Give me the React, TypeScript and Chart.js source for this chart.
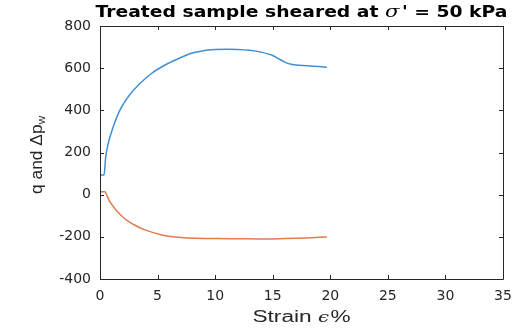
import React, { useEffect, useRef } from "react";
import { Chart, registerables } from "chart.js";

Chart.register(...registerables);

const qStrain = [0, 0.03, 0.35, 0.5, 0.72, 1.16, 1.74, 2.46, 3.33, 4.5, 5.65, 6.8, 8, 9, 10, 11, 12, 13, 14, 15, 15.5, 16, 16.5, 17, 18, 19, 19.7];
const qValues = [10, 93, 93, 180, 244, 323, 402, 465, 520, 576, 615, 645, 672, 683, 688, 690, 689, 685, 676, 660, 645, 630, 620, 615, 612, 608, 604];

const pwStrain = [0, 0.1, 0.43, 0.55, 0.75, 1.0, 1.5, 2.0, 2.5, 3.2, 3.91, 5.36, 6.81, 8.26, 10, 12, 14, 16, 18, 19.7];
const pwValues = [5, 14, 14, 2, -22, -45, -80, -107, -128, -150, -167, -191, -202, -207, -208, -209, -210, -208, -205, -201];

const xTicks = [0, 5, 10, 15, 20, 25, 30, 35];
const yTicks = [-400, -200, 0, 200, 400, 600, 800];

const AXIS = "#262626";

const framePlugin = {
  id: "frame",
  afterDraw(chart: any) {
    const { ctx, chartArea: a, scales } = chart;
    const { left, right, top, bottom } = a;
    ctx.save();
    ctx.strokeStyle = AXIS;
    ctx.lineWidth = 1;
    ctx.beginPath();
    ctx.rect(Math.round(left) + 0.5, Math.round(top) + 0.5, Math.round(right - left), Math.round(bottom - top));
    ctx.stroke();
    const tl = 4;
    ctx.beginPath();
    xTicks.forEach((v) => {
      const x = Math.round(scales.x.getPixelForValue(v)) + 0.5;
      ctx.moveTo(x, bottom);
      ctx.lineTo(x, bottom - tl);
      ctx.moveTo(x, top);
      ctx.lineTo(x, top + tl);
    });
    yTicks.forEach((v) => {
      const y = Math.round(scales.y.getPixelForValue(v)) + 0.5;
      ctx.moveTo(left, y);
      ctx.lineTo(left + tl, y);
      ctx.moveTo(right, y);
      ctx.lineTo(right - tl, y);
    });
    ctx.stroke();

    // Title
    const cx = (left + right) / 2;
    const p1 = "Treated sample sheared at ";
    const p2 = "\u03C3";
    const p3 = "' = 50 kPa";
    const fb = "bold 15px 'DejaVu Sans'";
    const fi = "italic 17px 'DejaVu Serif'";
    ctx.fillStyle = "#000";
    ctx.textBaseline = "alphabetic";
    ctx.textAlign = "left";
    ctx.font = fb;
    const w1 = ctx.measureText(p1).width;
    const w3 = ctx.measureText(p3).width;
    ctx.font = fi;
    const w2 = ctx.measureText(p2).width + 2;
    const total = w1 + w2 + w3;
    const k = 412 / total;
    ctx.save();
    ctx.translate(cx - 206, 17);
    ctx.scale(k, 1);
    ctx.font = fb;
    ctx.fillText(p1, 0, 0);
    ctx.font = fi;
    ctx.fillText(p2, w1, 0);
    ctx.font = fb;
    ctx.fillText(p3, w1 + w2, 0);
    ctx.restore();

    // X title
    ctx.fillStyle = AXIS;
    const xa = "Strain ";
    const xb = "\u03F5";
    const xc = "%";
    const fn = "16px 'Liberation Sans'";
    const fe = "italic 14px 'DejaVu Serif'";
    ctx.font = fn;
    const a1 = ctx.measureText(xa).width;
    const a3 = ctx.measureText(xc).width;
    ctx.font = fe;
    const a2 = ctx.measureText(xb).width + 1;
    const xt = a1 + a2 + a3;
    const kx = 98 / xt;
    ctx.save();
    ctx.translate(cx - 49, 322);
    ctx.scale(kx, 1);
    ctx.font = fn;
    ctx.fillText(xa, 0, 0);
    ctx.font = fe;
    ctx.fillText(xb, a1, 0);
    ctx.font = fn;
    ctx.fillText(xc, a1 + a2, 0);
    ctx.restore();

    // Y title
    const ya = "q and \u0394p";
    const yb = "w";
    const fy = "15px 'Liberation Sans'";
    const fs = "10px 'Liberation Sans'";
    ctx.font = fy;
    const b1 = ctx.measureText(ya).width;
    ctx.font = fs;
    const b2 = ctx.measureText(yb).width;
    const yt = b1 + b2;
    const ky = 78 / yt;
    ctx.save();
    ctx.translate(42, 155);
    ctx.rotate(-Math.PI / 2);
    ctx.scale(ky, 1.1);
    ctx.translate(-yt / 2, 0);
    ctx.font = fy;
    ctx.fillText(ya, 0, 0);
    ctx.font = fs;
    ctx.fillText(yb, b1, 3);
    ctx.restore();

    ctx.restore();
  },
};

export default function App() {
  const ref = useRef<HTMLCanvasElement | null>(null);
  useEffect(() => {
    if (!ref.current) return;
    const tickFont = { family: "'DejaVu Sans'", size: 14 };
    const chart = new Chart(ref.current, {
      type: "scatter",
      data: {
        datasets: [
          {
            label: "q",
            data: qStrain.map((x, i) => ({ x, y: qValues[i] })),
            showLine: true,
            borderColor: "#3d8fd6",
            borderWidth: 1.5,
            pointRadius: 0,
            fill: false,
            cubicInterpolationMode: "monotone",
          },
          {
            label: "Δpw",
            data: pwStrain.map((x, i) => ({ x, y: pwValues[i] })),
            showLine: true,
            borderColor: "#e27a50",
            borderWidth: 1.5,
            pointRadius: 0,
            fill: false,
            cubicInterpolationMode: "monotone",
          },
        ],
      },
      options: {
        animation: false,
        responsive: false,
        layout: { padding: { top: 26, right: 0, left: 0, bottom: 0 } },
        plugins: {
          legend: { display: false },
          title: { display: false },
          tooltip: { enabled: false },
        },
        scales: {
          x: {
            type: "linear",
            min: 0,
            max: 35,
            grid: { display: false, drawTicks: false },
            border: { display: false },
            ticks: {
              stepSize: 5,
              color: AXIS,
              font: tickFont,
              padding: 9,
              maxRotation: 0,
            },
            afterFit: (s: any) => {
              s.height = 49;
              s.paddingLeft = 0;
              s.paddingRight = 10;
            },
          },
          y: {
            type: "linear",
            min: -400,
            max: 800,
            grid: { display: false, drawTicks: false },
            border: { display: false },
            ticks: {
              stepSize: 200,
              color: AXIS,
              font: tickFont,
              padding: 9,
            },
            afterFit: (s: any) => {
              s.width = 100;
              s.paddingTop = 0;
              s.paddingBottom = 0;
            },
          },
        },
      },
      plugins: [framePlugin],
    });
    return () => chart.destroy();
  }, []);
  return (
    <div style={{ position: "absolute", left: 0, top: 0, width: 513, height: 328, background: "#fff" }}>
      <canvas ref={ref} width={513} height={328} style={{ display: "block" }} />
    </div>
  );
}
